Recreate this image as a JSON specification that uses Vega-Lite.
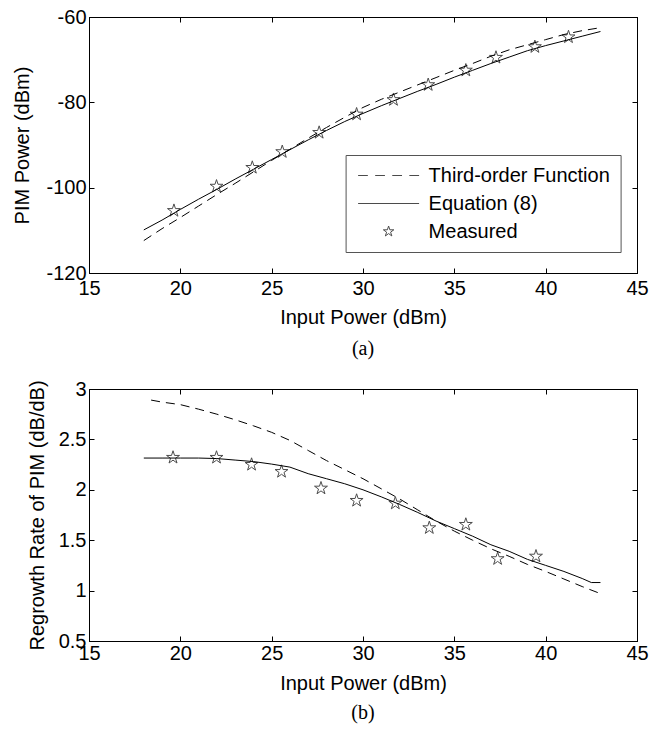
{
  "$schema": "https://vega.github.io/schema/vega-lite/v6.json",
  "padding": {"left": 12, "top": 6, "right": 5, "bottom": 5},
  "bounds": "flush",
  "spacing": 116,
  "config": {
    "font": "Liberation Sans",
    "view": {"stroke": "black", "strokeWidth": 1},
    "axis": {
      "grid": false, "domainColor": "black", "domainWidth": 1, "tickColor": "black", "tickWidth": 1,
      "tickSize": -5, "labelFont": "Liberation Sans", "labelFontSize": 20, "labelColor": "black",
      "labelPadding": 8, "labelFlush": false, "titleFont": "Liberation Sans", "titleFontSize": 20, "titleFontWeight": "normal",
      "titleColor": "black"
    }
  },
  "datasets": {
    "a_eq": [
      {"p": 18, "v": -109.9}, {"p": 19, "v": -107.6}, {"p": 20, "v": -105.1}, {"p": 21, "v": -102.7},
      {"p": 22, "v": -100.4}, {"p": 23, "v": -98.0}, {"p": 24, "v": -95.7}, {"p": 25, "v": -93.4},
      {"p": 26, "v": -91.1}, {"p": 27, "v": -88.8}, {"p": 28, "v": -86.6}, {"p": 29, "v": -84.5},
      {"p": 30, "v": -82.6}, {"p": 31, "v": -80.8}, {"p": 32, "v": -79.1}, {"p": 33, "v": -77.4},
      {"p": 34, "v": -75.8}, {"p": 35, "v": -74.1}, {"p": 36, "v": -72.5}, {"p": 37, "v": -70.9},
      {"p": 38, "v": -69.4}, {"p": 39, "v": -67.9}, {"p": 40, "v": -66.7}, {"p": 41, "v": -65.6},
      {"p": 42, "v": -64.5}, {"p": 43, "v": -63.4}
    ],
    "a_third": [
      {"p": 18, "v": -112.4}, {"p": 19, "v": -109.6}, {"p": 20, "v": -107.0}, {"p": 21, "v": -104.3},
      {"p": 22, "v": -101.6}, {"p": 23, "v": -99.0}, {"p": 24, "v": -96.3}, {"p": 25, "v": -93.6},
      {"p": 26, "v": -91.0}, {"p": 27, "v": -88.4}, {"p": 28, "v": -85.9}, {"p": 29, "v": -83.5},
      {"p": 30, "v": -81.2}, {"p": 31, "v": -79.3}, {"p": 32, "v": -77.6}, {"p": 33, "v": -75.9},
      {"p": 34, "v": -74.2}, {"p": 35, "v": -72.5}, {"p": 36, "v": -70.9}, {"p": 37, "v": -69.2},
      {"p": 38, "v": -67.7}, {"p": 39, "v": -66.5}, {"p": 40, "v": -65.3}, {"p": 41, "v": -64.1},
      {"p": 42, "v": -63.2}, {"p": 43, "v": -62.5}
    ],
    "a_meas": [
      {"p": 19.65, "v": -105.4, "s": "Measured"}, {"p": 21.98, "v": -99.7, "s": "Measured"},
      {"p": 23.94, "v": -95.3, "s": "Measured"}, {"p": 25.58, "v": -91.6, "s": "Measured"},
      {"p": 27.6, "v": -87.1, "s": "Measured"}, {"p": 29.65, "v": -82.8, "s": "Measured"},
      {"p": 31.67, "v": -79.4, "s": "Measured"}, {"p": 33.57, "v": -75.9, "s": "Measured"},
      {"p": 35.63, "v": -72.5, "s": "Measured"}, {"p": 37.28, "v": -69.5, "s": "Measured"},
      {"p": 39.41, "v": -67.0, "s": "Measured"}, {"p": 41.25, "v": -64.7, "s": "Measured"}
    ],
    "b_eq": [
      {"p": 18, "v": 2.315}, {"p": 19, "v": 2.315}, {"p": 20, "v": 2.315}, {"p": 21, "v": 2.315},
      {"p": 22, "v": 2.31}, {"p": 23, "v": 2.295}, {"p": 24, "v": 2.28}, {"p": 25, "v": 2.255},
      {"p": 26, "v": 2.225}, {"p": 27, "v": 2.16}, {"p": 28, "v": 2.11}, {"p": 29, "v": 2.06},
      {"p": 30, "v": 2.0}, {"p": 31, "v": 1.93}, {"p": 32, "v": 1.855}, {"p": 33, "v": 1.775},
      {"p": 34, "v": 1.69}, {"p": 35, "v": 1.615}, {"p": 36, "v": 1.54}, {"p": 37, "v": 1.455},
      {"p": 38, "v": 1.39}, {"p": 39, "v": 1.31}, {"p": 40, "v": 1.25}, {"p": 41, "v": 1.19},
      {"p": 42, "v": 1.12}, {"p": 42.5, "v": 1.08}, {"p": 43, "v": 1.08}
    ],
    "b_third": [
      {"p": 18.4, "v": 2.89}, {"p": 19, "v": 2.87}, {"p": 20, "v": 2.845}, {"p": 21, "v": 2.8},
      {"p": 22, "v": 2.75}, {"p": 23, "v": 2.695}, {"p": 24, "v": 2.635}, {"p": 25, "v": 2.57},
      {"p": 26, "v": 2.49}, {"p": 27, "v": 2.39}, {"p": 28, "v": 2.29}, {"p": 29, "v": 2.2},
      {"p": 30, "v": 2.11}, {"p": 31, "v": 2.01}, {"p": 32, "v": 1.91}, {"p": 33, "v": 1.8},
      {"p": 34, "v": 1.69}, {"p": 35, "v": 1.59}, {"p": 36, "v": 1.5}, {"p": 37, "v": 1.415},
      {"p": 38, "v": 1.34}, {"p": 39, "v": 1.26}, {"p": 40, "v": 1.19}, {"p": 41, "v": 1.115},
      {"p": 42, "v": 1.04}, {"p": 43, "v": 0.97}
    ],
    "b_meas": [
      {"p": 19.6, "v": 2.32}, {"p": 21.98, "v": 2.32}, {"p": 23.9, "v": 2.25}, {"p": 25.54, "v": 2.18},
      {"p": 27.7, "v": 2.015}, {"p": 29.65, "v": 1.893}, {"p": 31.77, "v": 1.866}, {"p": 33.63, "v": 1.622},
      {"p": 35.63, "v": 1.655}, {"p": 37.37, "v": 1.315}, {"p": 39.47, "v": 1.34}
    ]
  },
  "vconcat": [
    {
      "width": 548, "height": 256,
      "title": {"text": "(a)", "orient": "bottom", "anchor": "middle", "frame": "group", "font": "Liberation Serif", "fontSize": 20, "fontWeight": "normal", "color": "black", "offset": 11},
      "resolve": {"axis": {"x": "independent", "y": "independent"}},
      "layer": [
        {
          "data": {"name": "a_eq"},
          "mark": {"type": "line", "color": "black", "strokeWidth": 1},
          "encoding": {
            "x": {"field": "p", "type": "quantitative", "scale": {"domain": [15, 45], "nice": false, "zero": false},
                  "axis": {"orient": "bottom", "title": "Input Power (dBm)", "values": [15, 20, 25, 30, 35, 40, 45], "labelExpr": "'' + datum.value", "labelPadding": 10, "titlePadding": 9.5}},
            "y": {"field": "v", "type": "quantitative", "scale": {"domain": [-120, -60], "nice": false, "zero": false},
                  "axis": {"orient": "left", "title": "PIM Power (dBm)", "values": [-120, -100, -80, -60], "labelExpr": "'' + datum.value", "titlePadding": 13}}
          }
        },
        {
          "data": {"name": "a_third"},
          "mark": {"type": "line", "color": "black", "strokeWidth": 1, "strokeDash": [9, 6]},
          "encoding": {
            "x": {"field": "p", "type": "quantitative", "axis": {"orient": "top", "title": null, "labels": false, "values": [15, 20, 25, 30, 35, 40, 45]}},
            "y": {"field": "v", "type": "quantitative", "axis": {"orient": "right", "title": null, "labels": false, "values": [-120, -100, -80, -60]}}
          }
        },
        {
          "data": {"name": "a_meas"},
          "mark": {"type": "point", "color": "black", "filled": false, "strokeWidth": 1, "size": 611},
          "encoding": {
            "x": {"field": "p", "type": "quantitative", "axis": null},
            "y": {"field": "v", "type": "quantitative", "axis": null},
            "shape": {
              "field": "s", "type": "nominal",
              "scale": {
                "domain": ["Third-order Function", "Equation (8)", "Measured"],
                "range": [
                  "M-3.05,0H-2.074M-1.342,0H-0.366M0.366,0H1.342M2.074,0H3.05",
                  "M-3.05,0H3.05",
                  "M0,-0.55L0.1234,-0.1702L0.5231,-0.1699L0.1998,0.0651L0.3233,0.4449L0,0.2102L-0.3233,0.4449L-0.1998,0.0651L-0.5231,-0.1699L-0.1234,-0.1702Z"
                ]
              },
              "legend": {
                "orient": "none", "legendX": 256.6, "legendY": 138, "title": null,
                "strokeColor": "#555", "fillColor": "white", "padding": 10,
                "symbolSize": 400, "symbolStrokeWidth": 1, "symbolStrokeColor": "black",
                "labelFont": "Liberation Sans", "labelFontSize": 20, "labelColor": "black", "labelLimit": 400,
                "labelOffset": 29.5, "rowPadding": 7, "symbolOffset": 22.5
              }
            }
          }
        }
      ]
    },
    {
      "width": 548, "height": 252,
      "title": {"text": "(b)", "orient": "bottom", "anchor": "middle", "frame": "group", "font": "Liberation Serif", "fontSize": 20, "fontWeight": "normal", "color": "black", "offset": 10},
      "resolve": {"axis": {"x": "independent", "y": "independent"}},
      "layer": [
        {
          "data": {"name": "b_eq"},
          "mark": {"type": "line", "color": "black", "strokeWidth": 1},
          "encoding": {
            "x": {"field": "p", "type": "quantitative", "scale": {"domain": [15, 45], "nice": false, "zero": false},
                  "axis": {"orient": "bottom", "title": "Input Power (dBm)", "values": [15, 20, 25, 30, 35, 40, 45], "labelExpr": "'' + datum.value", "labelPadding": 7.5, "titlePadding": 9.5}},
            "y": {"field": "v", "type": "quantitative", "scale": {"domain": [0.5, 3], "nice": false, "zero": false},
                  "axis": {"orient": "left", "title": "Regrowth Rate of PIM (dB/dB)", "values": [0.5, 1, 1.5, 2, 2.5, 3], "labelExpr": "'' + datum.value", "titlePadding": 11}}
          }
        },
        {
          "data": {"name": "b_third"},
          "mark": {"type": "line", "color": "black", "strokeWidth": 1, "strokeDash": [9, 6]},
          "encoding": {
            "x": {"field": "p", "type": "quantitative", "axis": {"orient": "top", "title": null, "labels": false, "values": [15, 20, 25, 30, 35, 40, 45]}},
            "y": {"field": "v", "type": "quantitative", "axis": {"orient": "right", "title": null, "labels": false, "values": [0.5, 1, 1.5, 2, 2.5, 3]}}
          }
        },
        {
          "data": {"name": "b_meas"},
          "mark": {"type": "point", "color": "black", "filled": false, "strokeWidth": 1, "size": 611,
                   "shape": "M0,-0.55L0.1234,-0.1702L0.5231,-0.1699L0.1998,0.0651L0.3233,0.4449L0,0.2102L-0.3233,0.4449L-0.1998,0.0651L-0.5231,-0.1699L-0.1234,-0.1702Z"},
          "encoding": {
            "x": {"field": "p", "type": "quantitative", "axis": null},
            "y": {"field": "v", "type": "quantitative", "axis": null}
          }
        }
      ]
    }
  ]
}
